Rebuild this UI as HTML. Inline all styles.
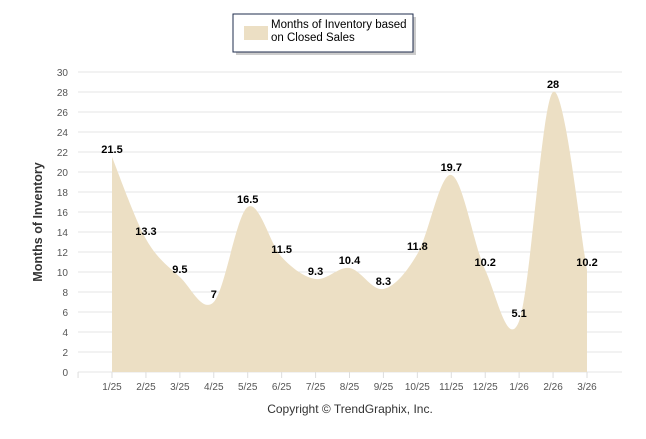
<!DOCTYPE html>
<html><head><meta charset="utf-8"><style>
body{margin:0;background:#fff;width:646px;height:434px;overflow:hidden;font-family:"Liberation Sans",sans-serif}
</style></head><body>
<svg id="c" width="646" height="434" xmlns="http://www.w3.org/2000/svg">
<g>
<rect x="236" y="17" width="180" height="38" fill="#999" opacity="0.5"/>
<rect x="233" y="14" width="180" height="38" fill="#fff" stroke="#1f2d4d" stroke-width="1"/>
<rect x="244" y="26" width="24" height="14" fill="#ecdfc4"/>
<text x="271" y="28" font-size="11.5" fill="#000">Months of Inventory based</text>
<text x="271" y="41" font-size="11.5" fill="#000">on Closed Sales</text>
</g>
<g id="grid"></g>
<path id="area" fill="#ecdfc4"/>
<g id="labels"></g>
<text transform="translate(42,222) rotate(-90)" text-anchor="middle" font-size="12.5" font-weight="bold" fill="#333">Months of Inventory</text>
<text x="350" y="413" text-anchor="middle" font-size="12" fill="#333">Copyright © TrendGraphix, Inc.</text>
</svg>
<script>
const categories=["1/25","2/25","3/25","4/25","5/25","6/25","7/25","8/25","9/25","10/25","11/25","12/25","1/26","2/26","3/26"];
const values=[21.5,13.3,9.5,7,16.5,11.5,9.3,10.4,8.3,11.8,19.7,10.2,5.1,28,10.2];
const yTicks=[0,2,4,6,8,10,12,14,16,18,20,22,24,26,28,30];
const NS="http://www.w3.org/2000/svg";
const x0=112,dx=(587-112)/14,gL=78,gR=622;
function xs(i){return x0+i*dx;}
function ys(v){return 372-v*10;}
const svg=document.getElementById('c'),grid=document.getElementById('grid'),lab=document.getElementById('labels');
function mk(t,a,p){const e=document.createElementNS(NS,t);for(const k in a)e.setAttribute(k,a[k]);(p||svg).appendChild(e);return e;}
yTicks.forEach(v=>{
 const l=mk('line',{x1:gL,x2:gR,y1:ys(v),y2:ys(v),stroke:'#e6e6e6','stroke-width':1},grid);
 
 
 const t=mk('text',{x:68,y:ys(v)+4,'text-anchor':'end','font-size':10,fill:'#555'},grid);
 t.textContent=v;
 
 
});
for(let i=0;i<=15;i++){mk('line',{x1:x0+(i-1)*dx,x2:x0+(i-1)*dx,y1:372,y2:378,stroke:'#ddd'},grid);}
categories.forEach((c,i)=>{
 const t=mk('text',{x:xs(i),y:390,'text-anchor':'middle','font-size':10,fill:'#555'},grid);
 t.textContent=c;
 
 
});
const P=values.map((v,i)=>[xs(i),ys(v)]);
let d=`M${P[0][0]},372L${P[0][0]},${P[0][1]}`;
for(let i=0;i<P.length-1;i++){
 const p0=P[Math.max(0,i-1)],p1=P[i],p2=P[i+1],p3=P[Math.min(P.length-1,i+2)];
 const c1=[p1[0]+(p2[0]-p0[0])/6,p1[1]+(p2[1]-p0[1])/6],c2=[p2[0]-(p3[0]-p1[0])/6,p2[1]-(p3[1]-p1[1])/6];
 d+=`C${c1[0]},${c1[1]} ${c2[0]},${c2[1]} ${p2[0]},${p2[1]}`;
}
d+=`L${P[P.length-1][0]},372Z`;
document.getElementById('area').setAttribute('d',d);
values.forEach((v,i)=>{
 const t=mk('text',{x:xs(i),y:ys(v)-4,'text-anchor':'middle','font-size':11,'font-weight':'bold',fill:'#000'},lab);
 t.textContent=v;
 
 
});
</script>
</body></html>
